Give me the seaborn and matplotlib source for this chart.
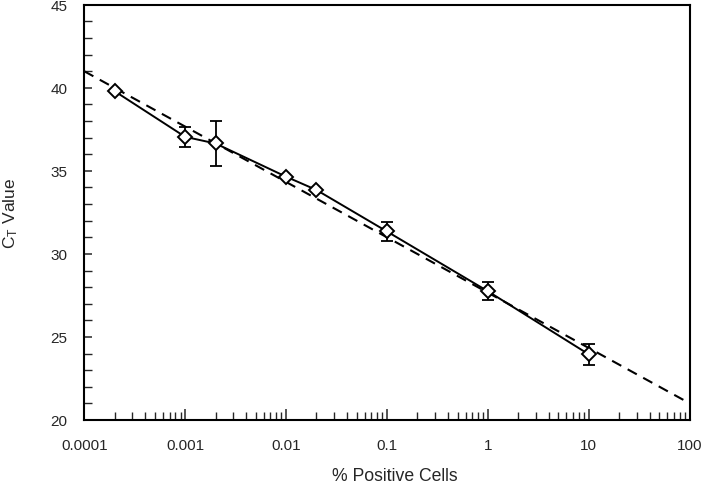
import numpy as np
import pandas as pd
import matplotlib
matplotlib.use("Agg")
import matplotlib.pyplot as plt
from matplotlib.ticker import LogLocator, FixedLocator, FuncFormatter, MultipleLocator, NullFormatter
import seaborn as sns

# Data
pct_cells = [0.0002, 0.001, 0.002, 0.01, 0.02, 0.1, 1, 10]
ct_value = [39.8, 37.05, 36.65, 34.65, 33.85, 31.35, 27.75, 23.95]
ct_err = [0.0, 0.6, 1.35, 0.0, 0.0, 0.55, 0.55, 0.65]
fit_x = [0.0001, 100]
fit_y = [41.0, 21.0]
x_ticks = [0.0001, 0.001, 0.01, 0.1, 1, 10, 100]
x_tick_labels = ["0.0001", "0.001", "0.01", "0.1", "1", "10", "100"]
y_ticks = [20, 25, 30, 35, 40, 45]

sns.set_style("ticks")
plt.rcParams['font.family'] = ['Liberation Sans', 'DejaVu Sans']
plt.rcParams['mathtext.fontset'] = 'custom'
plt.rcParams['mathtext.rm'] = 'Liberation Sans'
plt.rcParams['mathtext.it'] = 'Liberation Sans'

df = pd.DataFrame({"x": pct_cells, "y": ct_value, "err": ct_err})
fit_df = pd.DataFrame({"x": fit_x, "y": fit_y})

fig = plt.figure(figsize=(7.2, 4.85), dpi=100)
ax = fig.add_axes([0.117, 0.132, 0.841, 0.856])

sns.lineplot(data=fit_df, x="x", y="y", ax=ax, color="black", lw=1.5,
             linestyle=(0, (5, 3.5)), zorder=2)
sns.lineplot(data=df, x="x", y="y", ax=ax, color="black", lw=1.4, zorder=3)

mask = df["err"] > 0
ax.errorbar(df.loc[mask, "x"], df.loc[mask, "y"], yerr=df.loc[mask, "err"],
            fmt="none", ecolor="black", elinewidth=1.3, capsize=4, capthick=1.3, zorder=3)
ax.plot(df["x"], df["y"], linestyle="none", marker="D", markersize=7,
        markerfacecolor="white", markeredgecolor="black", markeredgewidth=1.4, zorder=4)

ax.set_xscale("log")
ax.set_xlim(0.0001, 100)
ax.set_ylim(20, 45)
ax.xaxis.set_major_locator(FixedLocator(x_ticks))
ax.xaxis.set_major_formatter(FuncFormatter(lambda v, p: x_tick_labels[x_ticks.index(v)] if v in x_ticks else ""))
ax.xaxis.set_minor_locator(LogLocator(base=10, subs=np.arange(2, 10), numticks=20))
ax.xaxis.set_minor_formatter(NullFormatter())
ax.yaxis.set_major_locator(FixedLocator(y_ticks))
ax.yaxis.set_minor_locator(MultipleLocator(1))

ax.tick_params(axis="both", which="major", direction="in", length=8, width=1.1,
               labelsize=11, top=False, right=False)
ax.tick_params(axis="x", which="major", pad=13)
ax.tick_params(axis="y", which="major", pad=12, length=6)
ax.tick_params(axis="both", which="minor", direction="in", length=6, width=1.0,
               top=False, right=False)
for s in ax.spines.values():
    s.set_visible(True)
    s.set_linewidth(1.5)
    s.set_color("black")

ax.set_xlabel("% Positive Cells", fontsize=12.7)
ax.xaxis.set_label_coords(0.513, -0.133)
ax.xaxis.label.set_va("center")
ax.set_ylabel(r"C$_\mathrm{T}$ Value", fontsize=12.5)
ax.yaxis.set_label_coords(-0.122, 0.5)
ax.yaxis.label.set_va("center")

fig.savefig("out.png", dpi=100)
